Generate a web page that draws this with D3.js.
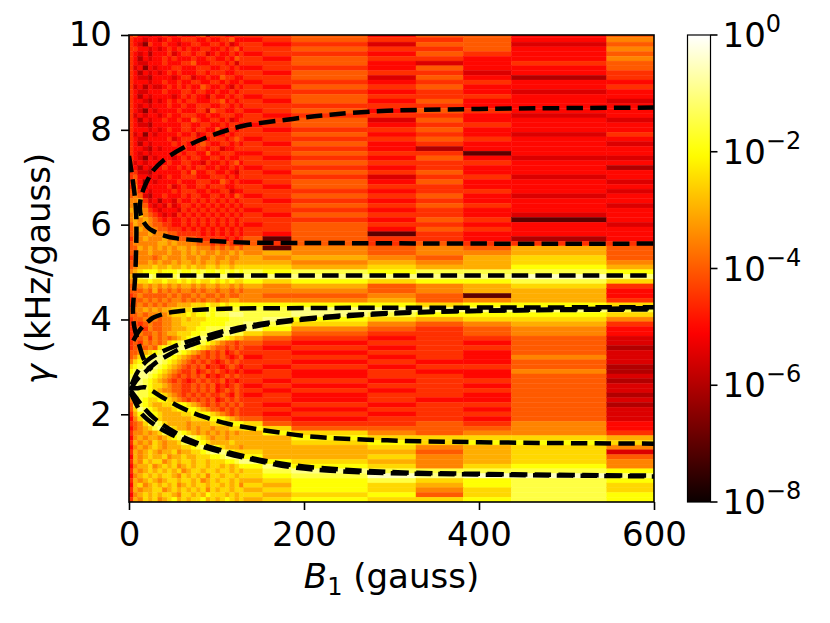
<!DOCTYPE html>
<html>
<head>
<meta charset="utf-8">
<script src="https://cdn.jsdelivr.net/npm/d3@7"></script>
<style>
  body { margin: 0; background: #fff; }
  svg { display: block; }
  text { font-family: "DejaVu Sans", sans-serif; fill: #000; }
</style>
</head>
<body>
<div id="chart"></div>
<script>
// ---- data ----
// B1 (gauss) column edges of the map
var b1Edges = [0, 5, 10, 16, 22, 27, 33, 38, 44, 49, 55, 60, 66, 71, 77, 82, 88, 93, 99,
               104, 110, 115, 121, 126, 131, 153, 186, 273, 328, 382, 437, 546, 600];
// gamma rows: centres 10.0, 9.9, ... 0.2 (kHz/gauss)
var gammaTop = 10.0, gammaStep = 0.1, gammaMin = 0.15;
// one hex digit per cell, value = 10^(h/2 - 8)
var levelRows = [
  "786656 676676 667857 776677 77868868",
  "766566 567667 776676 677866 67877869",
  "765376 676656 677667 767567 76758858",
  "776656 567676 766776 676786 77877869",
  "765646 667567 767756 766767 67768768",
  "764656 676766 676677 667687 76877669",
  "765566 676667 786667 776757 77865678",
  "756365 666776 667776 677676 67768668",
  "764656 567676 667767 776677 76877567",
  "765546 666567 756676 687766 77858647",
  "766656 676676 677667 767667 67767766",
  "756465 567676 766876 676576 76878667",
  "765566 676667 767766 766767 77767656",
  "764656 666567 676657 667677 67877766",
  "766546 567676 776667 786767 76868665",
  "765656 667667 667776 677676 77777666",
  "765365 666676 667758 776677 67868766",
  "756566 567667 776676 677766 76777656",
  "764656 676676 687667 767567 77858665",
  "765546 666667 766776 676776 67867766",
  "766656 567667 767766 866767 76778666",
  "756365 666676 675677 667677 77867657",
  "765566 667567 776667 776787 67778766",
  "764656 666767 667876 677676 76867665",
  "766546 566667 667767 756677 77764666",
  "765656 666676 776686 677766 67877266",
  "765365 666567 677667 767667 76768655",
  "756566 567667 766576 676786 77877766",
  "764656 676676 767766 766767 67767664",
  "775546 666667 686677 667657 76878666",
  "786656 567667 776667 776767 77757756",
  "786365 666676 667776 687676 67868665",
  "796566 667567 667767 776677 76877666",
  "897656 666767 776676 677566 77767765",
  "898546 676667 677667 767687 67878656",
  "99a756 466576 676767 676767 76767666",
  "9a9865 657567 767676 767676 77878765",
  "a9a976 566657 676767 676767 67767666",
  "9ab987 656576 767676 767676 76877656",
  "9a9a98 767667 676767 676767 77768726",
  "8a9a98 877667 676767 676767 67877665",
  "89a9a9 887776 767676 767676 77868766",
  "8999a9 998877 777676 767676 76827666",
  "799a99 9a9988 887777 776767 82877646",
  "899999 aa9a99 998887 878777 87878777",
  "88a9a9 a9a9aa 9a9998 989898 929898a8",
  "8899a9 99a99a 9a9a99 a99a9a 9a9899a8",
  "789998 9a999a 99a99a 99a99a a9a98ab8",
  "8899a9 a99a9a a9a9aa 9aa9aa aa9a9ab9",
  "89aaab aabaab abaabb abbabb bbabaaca",
  "9abccc bcccdc cdcdcc dcdcdc dcdcdddc",
  "abdeed ddeded edeede deeded eeeeeefe",
  "9abbcb bcbbcb cbcbbc bcbcbb cbcbccdb",
  "899a9a 9a9a9a a9a9aa 9aa9a9 a9a89ab7",
  "88898a 898989 989899 899898 99989aa6",
  "789888 889898 898988 989889 988982a6",
  "788989 898998 989899 899aa9 999a89a7",
  "789898 9899aa abbbcb bcbccc ccccbccb",
  "899a9a 9aabbb bcccdc dcdddd ddeeeeed",
  "889899 a9abbb cbccdc dddeee ddedcccb",
  "788989 899aab abbbcc cccddd decbabb9",
  "787898 899aab bbbccc ccdddd edb989a7",
  "788798 899aaa bbccdd ddeeee ec987896",
  "789889 89aabb bccdde eeeedd ba877896",
  "788979 8989ab cdeeee edcbaa 98767785",
  "787989 89bcde eeedcb a98878 87677685",
  "789898 bcdeee edcba9 887878 76767784",
  "889abc deeedc ba9878 786787 77677685",
  "89bcde eedcba 987878 787678 67767695",
  "9bcdee edcba9 878787 678787 77676685",
  "bcdeee dcba98 787867 767876 76767784",
  "cdeeed cba987 786787 876767 67676694",
  "deeedc ba9878 787867 678787 77677685",
  "eeedcb a98787 678787 786767 76767784",
  "feedcb ba9887 787878 676787 67677685",
  "feddcb a99887 787878 678787 76767785",
  "eeddcc cba987 878787 787687 67677684",
  "9edcbb ccba98 787878 678787 77676685",
  "8ddcba abbccc ba9878 787878 76767784",
  "8bedcb aaabcc ccba98 878787 77677685",
  "7acedc baaaab bccccb a98787 76767785",
  "69bdec baaaaa abbbcc ccba98 87677685",
  "789bde dbaaaa 9aaaab bbcccc b8778796",
  "689abd eedbaa 9a9aa9 aaabbb cb888896",
  "799a9a bdeedc ba9a9a 9a9a9a acb98997",
  "69a9aa 9abcde edcba9 aa9aaa aacbbbba",
  "7a9a9b a9aabd eedcba aaabaa aabcbccb",
  "69a9ab a9aaab bcdeed cbaaa9 aaab9ab9",
  "7a9aba 9aab9a abbcde eedcbb baaa8ab5",
  "6a9aba ab9aab aabbbc cdeeed caab9ab8",
  "7a9bab b9abab babbab bbccde ecba9ab9",
  "69aab9 abab9a babbab bababc cecb9bc9",
  "7a9aba babab9 abbabb abbaba bdeddddc",
  "69abab abba9b abab9b babbab bcdfeffe",
  "7a9aba 9abbab bab9ab abbaba abcdbcdc",
  "6ab9ab abab9a babbab babab9 bacbacdb",
  "7a9aab b9abab abab9b abbabb abcb9bdb",
  "69abab abba9b babacb bbabab babc8bdc",
  "7a9bab 9abcab abbcab abcbab abcbbcdc"
];

// dashed model curves: B1 (gauss) and gamma (kHz/gauss) points
var hyperB = [600, 400, 295, 230, 187, 130, 93, 62, 39, 28, 21, 16, 13, 12.5, 13.5, 16, 21, 27, 40, 55, 90, 138, 250, 400, 600];
var hyperG = [8.47, 8.44, 8.40, 8.32, 8.23, 8.08, 7.87, 7.62, 7.35, 7.15, 6.93, 6.72, 6.5, 6.33, 6.2, 6.08, 5.95, 5.87, 5.77, 5.71, 5.66, 5.62, 5.61, 5.60, 5.60];
var steepB = [0, 3, 6, 8, 8.5, 8, 7, 5.5, 4.5, 6, 11, 18, 26];
var steepG = [7.45, 7.1, 6.7, 6.3, 5.9, 5.4, 4.9, 4.5, 4.2, 3.85, 3.5, 3.12, 2.93];
var flatB = [4, 600];
var flatG = [4.93, 4.93];
var thinB = [5, 10, 16, 22, 28, 40, 55, 100, 200, 400, 600];
var thinG = [3.55, 3.72, 3.86, 3.96, 4.04, 4.12, 4.17, 4.22, 4.24, 4.25, 4.26];
var riseAB = [1, 5, 10, 18, 30, 45, 55, 72, 93, 130, 187, 295, 400, 600];
var riseAG = [2.5, 2.62, 2.75, 2.88, 3.08, 3.25, 3.35, 3.47, 3.6, 3.8, 3.97, 4.12, 4.18, 4.21];
var riseBB = [3, 10, 20, 30, 50, 72, 110, 155, 220, 300, 450, 600];
var riseBG = [2.62, 2.9, 3.12, 3.25, 3.42, 3.56, 3.76, 3.92, 4.05, 4.14, 4.2, 4.24];
var descUB = [1, 10, 18, 38, 61, 85, 113, 142, 170, 207, 295, 401, 600];
var descUG = [2.55, 2.55, 2.57, 2.36, 2.13, 1.95, 1.8, 1.7, 1.62, 1.53, 1.45, 1.41, 1.38];
var descAB = [2, 6, 10, 16, 33, 50, 72, 110, 155, 187, 230, 295, 439, 600];
var descAG = [2.45, 2.3, 2.15, 1.98, 1.73, 1.56, 1.39, 1.18, 0.99, 0.88, 0.81, 0.76, 0.72, 0.69];
var descBB = [2, 8, 16, 28, 45, 72, 110, 155, 200, 295, 440, 600];
var descBG = [2.5, 2.35, 2.16, 1.93, 1.7, 1.44, 1.22, 1.02, 0.9, 0.785, 0.735, 0.705];

var xTicks = [0, 200, 400, 600];
var yTicks = [2, 4, 6, 8, 10];
var cbExponents = [0, -2, -4, -6, -8];

// ---- drawing ----
var W = 830, H = 623;
var P = { left: 129, right: 654, top: 35, bottom: 502 };
var FS = 34;

var svg = d3.select('#chart').append('svg').attr('width', W).attr('height', H);

var x = d3.scaleLinear().domain([0, 600]).range([P.left, P.right]);
var y = d3.scaleLinear().domain([gammaMin, 10]).range([P.bottom, P.top]);

function hot(t) {
    t = Math.max(0, Math.min(1, t));
    var r = Math.min(1, 0.0416 + t * (1 - 0.0416) / 0.365079);
    var g = Math.max(0, Math.min(1, (t - 0.365079) / (0.746032 - 0.365079)));
    var b = Math.max(0, Math.min(1, (t - 0.746032) / (1 - 0.746032)));
    return d3.rgb(r * 255, g * 255, b * 255).toString();
}
var color = d3.scaleSequentialLog(hot).domain([1e-8, 1]);

var cells = [];
levelRows.forEach(function(row, i) {
    var s = row.replace(/ /g, '');
    var gc = Math.round((gammaTop - i * gammaStep) * 100) / 100;
    for (var j = 0; j < b1Edges.length - 1; j++) {
        var h = parseInt(s[j] || s[s.length - 1], 16);
        cells.push({
            b0: b1Edges[j], b1: b1Edges[j + 1],
            g0: Math.max(gammaMin, gc - gammaStep / 2),
            g1: Math.min(10, gc + gammaStep / 2),
            v: Math.pow(10, h / 2 - 8)
        });
    }
});

svg.append('defs').append('clipPath').attr('id', 'clip')
    .append('rect')
    .attr('x', P.left).attr('y', P.top)
    .attr('width', P.right - P.left).attr('height', P.bottom - P.top);

var map = svg.append('g').attr('clip-path', 'url(#clip)');

map.selectAll('rect.cell')
    .data(cells)
    .enter()
    .append('rect')
    .attr('class', 'cell')
    .attr('x', function(d) { return x(d.b0); })
    .attr('y', function(d) { return y(d.g1); })
    .attr('width', function(d) { return x(d.b1) - x(d.b0); })
    .attr('height', function(d) { return y(d.g0) - y(d.g1); })
    .attr('fill', function(d) { return color(d.v); })
    .attr('stroke', function(d) { return color(d.v); })
    .attr('stroke-width', 0.4);

var curves = [
    { b: hyperB, g: hyperG },
    { b: steepB, g: steepG },
    { b: flatB, g: flatG },
    { b: thinB, g: thinG },
    { b: riseAB, g: riseAG },
    { b: riseBB, g: riseBG },
    { b: descUB, g: descUG },
    { b: descAB, g: descAG },
    { b: descBB, g: descBG }
];

var line = d3.line()
    .x(function(d) { return x(d[0]); })
    .y(function(d) { return y(d[1]); })
    .curve(d3.curveCatmullRom.alpha(0.5));

map.selectAll('path.model')
    .data(curves)
    .enter()
    .append('path')
    .attr('class', 'model')
    .attr('d', function(c) { return line(d3.zip(c.b, c.g)); })
    .attr('fill', 'none')
    .attr('stroke', '#000')
    .attr('stroke-width', 4.5)
    .attr('stroke-dasharray', '16.5,7.2');

// axes
var xAxis = svg.append('g')
    .attr('transform', 'translate(0,' + P.bottom + ')')
    .call(d3.axisBottom(x).tickValues(xTicks).tickSize(8).tickPadding(12));
var yAxis = svg.append('g')
    .attr('transform', 'translate(' + P.left + ',0)')
    .call(d3.axisLeft(y).tickValues(yTicks).tickSize(8).tickPadding(9));

[xAxis, yAxis].forEach(function(a) {
    a.select('.domain').remove();
    a.selectAll('line').attr('stroke', '#000').attr('stroke-width', 1.6);
    a.selectAll('text').style('font-size', FS + 'px').style('font-family', '"DejaVu Sans", sans-serif');
});

svg.append('rect')
    .attr('x', P.left).attr('y', P.top)
    .attr('width', P.right - P.left).attr('height', P.bottom - P.top)
    .attr('fill', 'none').attr('stroke', '#000').attr('stroke-width', 1.6);

// axis labels
var xl = svg.append('text')
    .attr('x', (P.left + P.right) / 2).attr('y', 588)
    .attr('text-anchor', 'middle')
    .style('font-size', FS + 'px');
xl.append('tspan').style('font-style', 'italic').text('B');
xl.append('tspan').attr('dy', 7).style('font-size', '24px').text('1');
xl.append('tspan').attr('dy', -7).text(' (gauss)');

var yl = svg.append('text')
    .attr('transform', 'translate(50,' + ((P.top + P.bottom) / 2) + ') rotate(-90)')
    .attr('text-anchor', 'middle')
    .style('font-size', FS + 'px');
yl.append('tspan').style('font-style', 'italic').text('γ');
yl.append('tspan').text(' (kHz/gauss)');

// colorbar
var CB = { left: 687.5, right: 710.5, top: 35, bottom: 502 };
var grad = svg.select('defs').append('linearGradient')
    .attr('id', 'hotgrad')
    .attr('x1', 0).attr('y1', 1).attr('x2', 0).attr('y2', 0);
d3.range(0, 1.0001, 0.02).forEach(function(t) {
    grad.append('stop').attr('offset', t).attr('stop-color', hot(t));
});
svg.append('rect')
    .attr('x', CB.left).attr('y', CB.top)
    .attr('width', CB.right - CB.left).attr('height', CB.bottom - CB.top)
    .attr('fill', 'url(#hotgrad)')
    .attr('stroke', '#000').attr('stroke-width', 1.2);

var cy = d3.scaleLog().domain([1e-8, 1]).range([CB.bottom, CB.top]);
var cbTicks = svg.append('g').selectAll('g')
    .data(cbExponents)
    .enter()
    .append('g')
    .attr('transform', function(e) { return 'translate(' + CB.right + ',' + cy(Math.pow(10, e)) + ')'; });
cbTicks.append('line').attr('x1', 0).attr('x2', 7).attr('stroke', '#000').attr('stroke-width', 1.6);
var cbText = cbTicks.append('text')
    .attr('x', 12).attr('y', 12)
    .style('font-size', FS + 'px');
cbText.append('tspan').text('10');
cbText.append('tspan')
    .attr('dy', -15)
    .style('font-size', '24px')
    .text(function(e) { return e === 0 ? '0' : '\u2212' + Math.abs(e); });
</script>
</body>
</html>
